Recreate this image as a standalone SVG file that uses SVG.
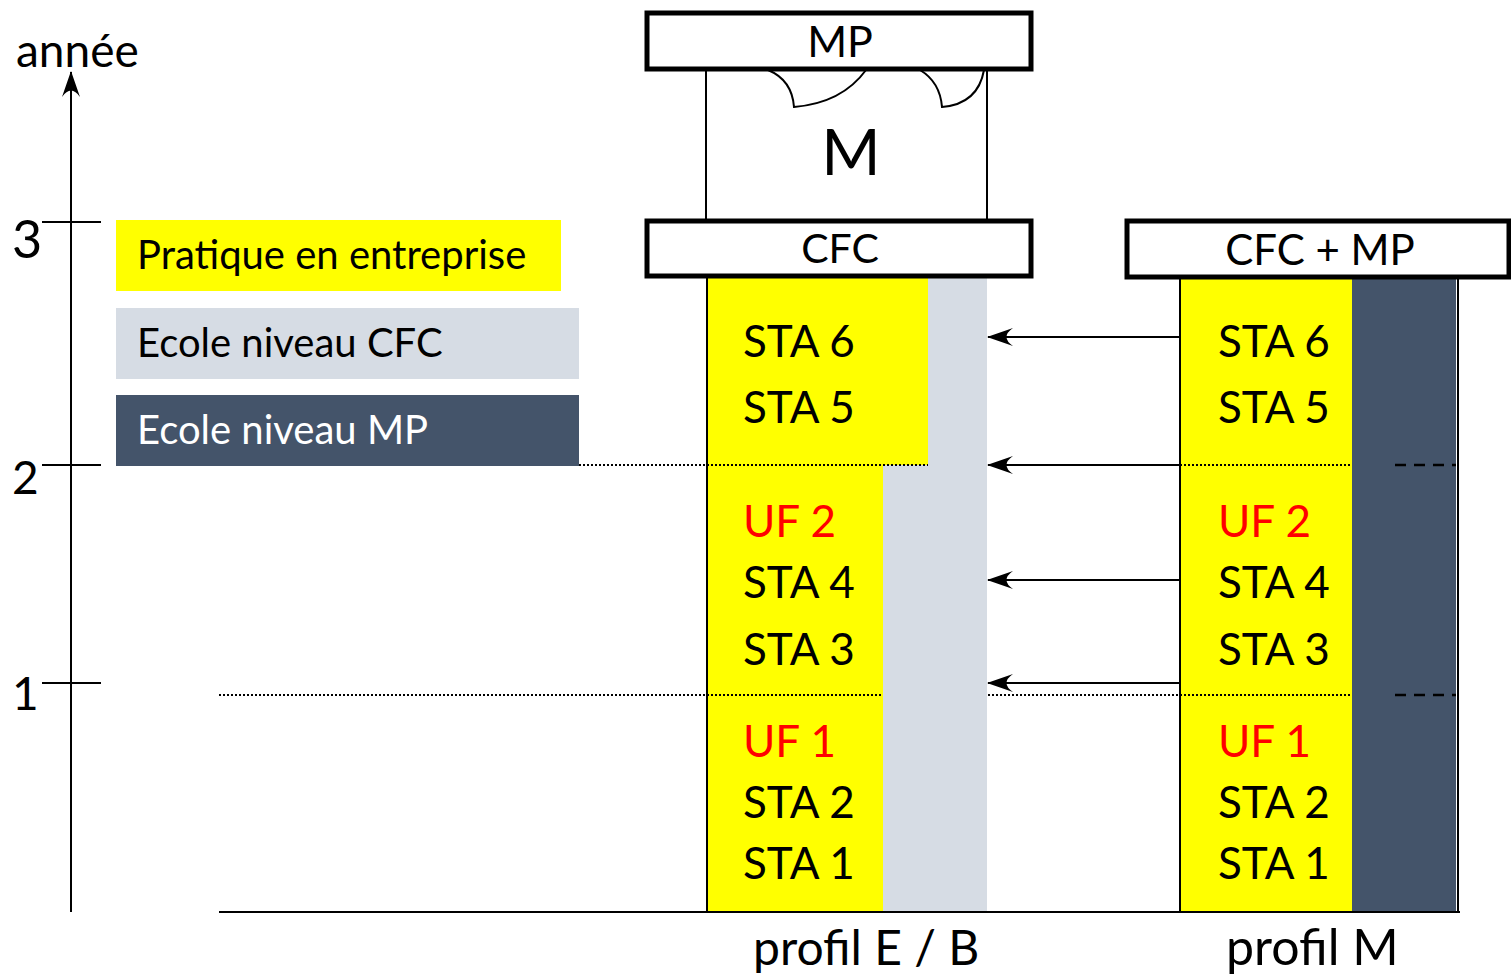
<svg xmlns="http://www.w3.org/2000/svg" width="1511" height="976" viewBox="0 0 1511 976">
<defs>
<style>
text{font-family:"Lato","Open Sans","Noto Sans",sans-serif;fill:#000}
.lbl{font-size:40px}
.sta{font-size:44px}
.red{fill:#ff0000}
.box{fill:#fff;stroke:#000;stroke-width:5}
.thin{stroke:#000;stroke-width:2;fill:none}
.dot{stroke:#000;stroke-width:2;stroke-dasharray:2 2;fill:none}
.dash{stroke:#000;stroke-width:2.5;stroke-dasharray:11 8;fill:none}
</style>
<marker id="ah" viewBox="0 0 26 18" refX="25" refY="9" markerWidth="26" markerHeight="18" markerUnits="userSpaceOnUse" orient="auto">
<path d="M26,9 L0,0 Q13,9 0,18 Z" fill="#000"/>
</marker>
</defs>

<g id="axis">
<line x1="71" y1="912" x2="71" y2="72" class="thin" marker-end="url(#ah)"/>
<line x1="42" y1="222" x2="101" y2="222" class="thin"/>
<line x1="42" y1="465" x2="101" y2="465" class="thin"/>
<line x1="42" y1="683" x2="101" y2="683" class="thin"/>
<text x="16" y="67" style="font-size:46px">année</text>
<text x="12" y="258" style="font-size:52px">3</text>
<text x="12" y="494" style="font-size:46px">2</text>
<text x="12" y="710" style="font-size:46px">1</text>
</g>

<g id="legend">
<rect x="116" y="220" width="445" height="71" fill="#ffff00"/>
<text x="137" y="269" class="lbl">Pratique en entreprise</text>
<rect x="116" y="308" width="463" height="71" fill="#d6dce4"/>
<text x="137" y="357" class="lbl">Ecole niveau CFC</text>
<rect x="116" y="395" width="463" height="71" fill="#44546a"/>
<text x="137" y="444" class="lbl" style="fill:#fff">Ecole niveau MP</text>
</g>

<g id="profil-eb">
<rect x="707" y="278" width="221" height="187" fill="#ffff00"/>
<rect x="928" y="278" width="59" height="187" fill="#d6dce4"/>
<rect x="707" y="465" width="176" height="447" fill="#ffff00"/>
<rect x="883" y="465" width="104" height="447" fill="#d6dce4"/>
<line x1="707" y1="278" x2="707" y2="912" class="thin"/>
<text x="743" y="357" class="sta">STA 6</text>
<text x="743" y="423" class="sta">STA 5</text>
<text x="743" y="537" class="sta red">UF 2</text>
<text x="743" y="598" class="sta">STA 4</text>
<text x="743" y="665" class="sta">STA 3</text>
<text x="743" y="757" class="sta red">UF 1</text>
<text x="743" y="818" class="sta">STA 2</text>
<text x="743" y="879" class="sta">STA 1</text>
<text x="753" y="965" style="font-size:48px">profil E / B</text>
</g>

<g id="m-block">
<line x1="706" y1="69" x2="706" y2="220" class="thin"/>
<line x1="987" y1="69" x2="987" y2="220" class="thin"/>
<path d="M768,70 Q792,80 794,107 Q842,103 866,70" class="thin"/>
<path d="M920,70 Q940,82 942,107 Q978,104 984,70" class="thin"/>
<text x="851" y="175" text-anchor="middle" style="font-size:64px">M</text>
</g>

<g id="mp-box">
<rect x="647" y="13" width="384" height="56" class="box"/>
<text x="840" y="57" text-anchor="middle" style="font-size:43px">MP</text>
</g>

<g id="cfc-box">
<rect x="647" y="221" width="384" height="55" class="box"/>
<text x="840" y="263" text-anchor="middle" style="font-size:41px">CFC</text>
</g>

<g id="profil-m">
<rect x="1180" y="278" width="172" height="634" fill="#ffff00"/>
<rect x="1352" y="278" width="104" height="634" fill="#44546a"/>
<line x1="1180" y1="278" x2="1180" y2="912" class="thin"/>
<line x1="1458" y1="278" x2="1458" y2="912" class="thin"/>
<text x="1218" y="357" class="sta">STA 6</text>
<text x="1218" y="423" class="sta">STA 5</text>
<text x="1218" y="537" class="sta red">UF 2</text>
<text x="1218" y="598" class="sta">STA 4</text>
<text x="1218" y="665" class="sta">STA 3</text>
<text x="1218" y="757" class="sta red">UF 1</text>
<text x="1218" y="818" class="sta">STA 2</text>
<text x="1218" y="879" class="sta">STA 1</text>
<text x="1226" y="965" style="font-size:50px">profil M</text>
</g>

<g id="cfc-mp-box">
<rect x="1127" y="221" width="382" height="56" class="box"/>
<text x="1320" y="265" text-anchor="middle" style="font-size:42px">CFC + MP</text>
</g>

<g id="connectors">
<line x1="579" y1="465" x2="928" y2="465" class="dot"/>
<line x1="1180" y1="465" x2="1352" y2="465" class="dot"/>
<line x1="1395" y1="465" x2="1456" y2="465" class="dash"/>
<line x1="219" y1="695" x2="883" y2="695" class="dot"/>
<line x1="988" y1="695" x2="1352" y2="695" class="dot"/>
<line x1="1395" y1="695" x2="1456" y2="695" class="dash"/>
<line x1="219" y1="912" x2="1460" y2="912" class="thin"/>
<line x1="1180" y1="337" x2="988" y2="337" class="thin" marker-end="url(#ah)"/>
<line x1="1180" y1="465" x2="988" y2="465" class="thin" marker-end="url(#ah)"/>
<line x1="1180" y1="580" x2="988" y2="580" class="thin" marker-end="url(#ah)"/>
<line x1="1180" y1="683" x2="988" y2="683" class="thin" marker-end="url(#ah)"/>
</g>
</svg>
